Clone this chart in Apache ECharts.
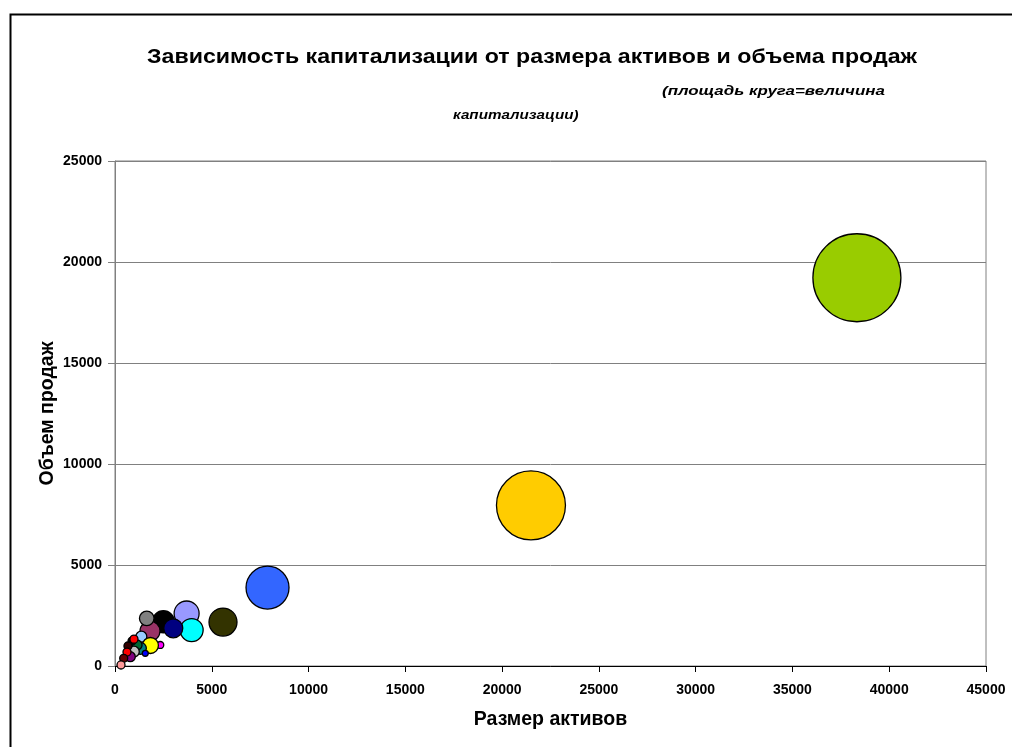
<!DOCTYPE html>
<html>
<head>
<meta charset="utf-8">
<script src="https://cdn.jsdelivr.net/npm/echarts@6/dist/echarts.min.js"></script>
<style>
html,body{margin:0;padding:0;background:#fff;}
#chart{width:1012px;height:747px;}
</style>
</head>
<body>
<div id="chart"></div>
<script>
// Data: assets (x), sales (y), capitalization (bubble area), colour
const assets = [38330, 21490, 7880, 5580, 3700, 3960, 2500, 3010, 1810, 1640, 1360, 2340, 1830, 1310, 1140, 1565, 970, 880, 980, 790, 670, 620, 450, 310];
const sales  = [19220, 7955, 3880, 2175, 2600, 1780, 2190, 1865, 1730, 2360, 1450, 1040, 1015, 875, 1040, 630, 710, 1235, 1330, 460, 990, 690, 380, 50];
const capitalization = [48000, 29500, 11460, 4860, 3870, 3280, 3000, 2240, 2480, 1320, 750, 300, 1590, 890, 620, 220, 750, 400, 400, 620, 400, 400, 400, 400];
const colors = ['#99CC00', '#FFCC00', '#3366FF', '#333300', '#9999FF', '#00FFFF', '#000000', '#000080', '#993366', '#808080', '#99CCFF', '#FF00FF', '#FFFF00', '#008080', '#006633', '#0000FF', '#C0C0C0', '#000000', '#FF0000', '#800080', '#330000', '#FF0000', '#660000', '#FF9999'];
const xTicks = [0, 5000, 10000, 15000, 20000, 25000, 30000, 35000, 40000, 45000];
const yTicks = [0, 5000, 10000, 15000, 20000, 25000];

const maxCap = Math.max(...capitalization);
const maxDiameter = 88;

const points = assets.map((a, i) => ({
  value: [a, sales[i], capitalization[i]],
  itemStyle: { color: colors[i] }
}));

const chart = echarts.init(document.getElementById('chart'));
const font = 'Liberation Sans, Arial, sans-serif';
chart.setOption({
  animation: false,
  backgroundColor: '#fff',
  graphic: [
    { type: 'rect', shape: { x: 10.5, y: 14.5, width: 1100, height: 800 }, style: { fill: 'none', stroke: '#000', lineWidth: 2 }, silent: true },
    { type: 'text', x: 532, y: 57, scaleX: 1.158, silent: true,
      style: { text: 'Зависимость капитализации от размера активов и объема продаж', font: 'bold 20px ' + font, fill: '#000', align: 'center', verticalAlign: 'middle' } },
    { type: 'text', x: 662, y: 91, scaleX: 1.30, silent: true,
      style: { text: '(площадь круга=величина', font: 'italic bold 13px ' + font, fill: '#000', align: 'left', verticalAlign: 'middle' } },
    { type: 'text', x: 453, y: 115, scaleX: 1.17, silent: true,
      style: { text: 'капитализации)', font: 'italic bold 13px ' + font, fill: '#000', align: 'left', verticalAlign: 'middle' } }
  ],
  grid: {
    left: 115, top: 161, right: 26, bottom: 81,
    show: true, borderColor: '#808080', borderWidth: 1, backgroundColor: '#fff'
  },
  xAxis: {
    type: 'value', min: 0, max: 45000, interval: 5000,
    name: 'Размер активов', nameLocation: 'middle', nameGap: 44, nameMoveOverlap: false,
    nameTextStyle: { fontFamily: font, fontSize: 19.5, fontWeight: 'bold', color: '#000' },
    axisLine: { show: true, lineStyle: { color: '#000', width: 1 } },
    axisTick: { show: true, length: 6, lineStyle: { color: '#000' } },
    axisLabel: { fontFamily: font, fontSize: 14, fontWeight: 'bold', color: '#000', margin: 17,
      formatter: v => xTicks.includes(v) ? String(v) : '' },
    splitLine: { show: false }
  },
  yAxis: {
    type: 'value', min: 0, max: 25000, interval: 5000,
    name: 'Объем продаж', nameLocation: 'middle', nameGap: 57, nameRotate: 90, nameMoveOverlap: false,
    nameTextStyle: { fontFamily: font, fontSize: 19.5, fontWeight: 'bold', color: '#000' },
    axisLine: { show: true, lineStyle: { color: '#808080', width: 1 } },
    axisTick: { show: true, length: 7, lineStyle: { color: '#808080' } },
    axisLabel: { fontFamily: font, fontSize: 14, fontWeight: 'bold', color: '#000', margin: 13,
      formatter: v => yTicks.includes(v) ? String(v) : '' },
    splitLine: { show: true, lineStyle: { color: '#808080', width: 1 } }
  },
  series: [{
    type: 'scatter',
    data: points,
    symbolSize: d => maxDiameter * Math.sqrt(d[2] / maxCap),
    itemStyle: { borderColor: '#000', borderWidth: 1.3, opacity: 1 },
    emphasis: { disabled: true }
  }]
});
</script>
</body>
</html>
